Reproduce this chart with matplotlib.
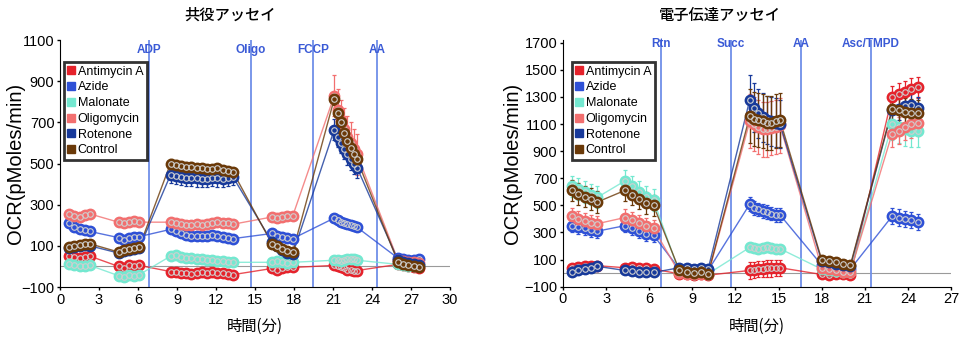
import matplotlib
matplotlib.use('Agg')
import matplotlib.pyplot as plt
import numpy as np

plt.rcParams['font.family'] = ['Liberation Sans', 'DejaVu Sans']
JP = ['Noto Sans CJK JP', 'DejaVu Sans']

names = ['Antimycin A', 'Azide', 'Malonate', 'Oligomycin', 'Rotenone', 'Control']
colors = ['#e5222b', '#2e50d6', '#74e8d0', '#f26f6f', '#17399a', '#6a3908']

# ---- 共役アッセイ (coupling assay) ----
coup_t = [0.7, 1.1, 1.5, 1.9, 2.3,
          4.5, 4.9, 5.3, 5.7, 6.1,
          8.5, 8.9, 9.3, 9.7, 10.1, 10.5, 10.9, 11.3, 11.7, 12.1, 12.5, 12.9, 13.3,
          16.3, 16.7, 17.1, 17.5, 17.9,
          21.1, 21.35, 21.6, 21.85, 22.1, 22.35, 22.6, 22.85,
          26.0, 26.4, 26.8, 27.2, 27.6]
coup_sizes = [5, 5, 13, 5, 8, 5]
coup_antimycin = [50, 45, 40, 45, 50,
                  0, -10, 5, 0, 5,
                  -25, -25, -30, -30, -35, -30, -25, -30, -25, -30, -30, -35, -40,
                  -10, -15, -10, -5, -5,
                  5, 0, -5, -10, -15, -15, -20, -20,
                  10, 5, 0, -5, -10]
coup_azide = [210, 190, 180, 175, 170,
              140, 130, 140, 145, 145,
              180, 170, 160, 155, 150, 150, 150, 150, 155, 150, 145, 140, 135,
              160, 150, 145, 140, 135,
              235, 225, 215, 210, 205, 200, 195, 190,
              40, 35, 30, 30, 35]
coup_malonate = [10, 5, 0, 0, 5,
                 -45, -50, -40, -45, -40,
                 50, 55, 45, 40, 40, 35, 35, 30, 30, 25, 25, 20, 20,
                 20, 25, 20, 15, 20,
                 30, 30, 25, 30, 35, 35, 35, 30,
                 10, 5, 0, 0, 5]
coup_oligomycin = [255, 245, 240, 250, 255,
                   215, 210, 215, 220, 215,
                   215, 210, 205, 200, 200, 205, 200, 205, 210, 215, 210, 210, 205,
                   240, 235, 240, 245, 245,
                   830, 760, 710, 670, 630, 600, 570, 545,
                   30, 25, 20, 20, 15]
coup_rotenone = [90, 95, 100, 105, 100,
                 65, 75, 80, 85, 90,
                 445, 440, 435, 430, 430, 428, 425, 425, 430, 428, 425, 430, 435,
                 120, 100, 80, 65, 60,
                 665, 630, 600, 570, 545, 520, 500, 480,
                 30, 20, 15, 10, 5]
coup_control = [95, 100, 105, 110, 110,
                70, 80, 85, 90, 95,
                500, 495, 490, 485, 485, 480, 478, 475, 475, 480, 470, 465, 460,
                110, 100, 85, 75, 70,
                815, 745, 700, 650, 610, 575, 545, 520,
                20, 10, 5, 0, -5]
coup_err = [[10, 10, 10, 10, 10, 10],
            [15, 15, 15, 15, 15, 10],
            [10, 10, 10, 10, 10, 10],
            [15, 15, 15, 15, 100, 10],
            [15, 15, 40, 20, 50, 10],
            [15, 15, 20, 20, 30, 10]]
coup_inj = [6.85, 14.7, 19.5, 24.4]
coup_inj_labels = ['ADP', 'Oligo', 'FCCP', 'AA']

# ---- 電子伝達アッセイ (electron flow assay) ----
flow_t = [0.6, 1.05, 1.5, 1.95, 2.4,
          4.3, 4.8, 5.3, 5.8, 6.3,
          8.1, 8.6, 9.1, 9.6, 10.1,
          13.0, 13.3, 13.6, 13.9, 14.2, 14.5, 14.8, 15.1,
          18.0, 18.5, 19.0, 19.5, 20.0,
          22.9, 23.35, 23.8, 24.25, 24.7]
flow_sizes = [5, 5, 5, 8, 5, 5]
flow_antimycin = [40, 45, 50, 55, 55,
                  40, 45, 40, 35, 30,
                  -5, -10, -15, -10, -15,
                  20, 25, 30, 30, 35, 35, 40, 40,
                  -10, -15, -10, -10, -15,
                  1300, 1320, 1340, 1360, 1370]
flow_azide = [350, 340, 330, 320, 310,
              350, 330, 310, 290, 280,
              30, 25, 20, 25, 20,
              510, 480, 470, 460, 450, 440, 430, 430,
              60, 50, 40, 30, 30,
              420, 410, 400, 390, 380]
flow_malonate = [640, 620, 600, 580, 560,
                 680, 640, 600, 560, 540,
                 5, 0, -5, 0, -5,
                 190, 185, 180, 185, 190, 185, 180, 180,
                 30, 20, 15, 10, 10,
                 1100, 1080, 1060, 1050, 1050]
flow_oligomycin = [420, 400, 385, 370, 365,
                   410, 390, 370, 350, 330,
                   0, -5, -10, -5, -10,
                   1120, 1100, 1080, 1060, 1060, 1070, 1080, 1090,
                   40, 30, 20, 10, 10,
                   1030, 1050, 1080, 1100, 1110]
flow_rotenone = [10, 20, 30, 40, 50,
                 20, 15, 10, 5, 5,
                 40, 35, 30, 35, 30,
                 1280, 1220, 1180, 1150, 1130, 1120, 1110, 1100,
                 90, 80, 70, 60, 50,
                 1200, 1210, 1230, 1240, 1220]
flow_control = [610, 585, 565, 545, 525,
                610, 580, 550, 520, 500,
                20, 10, 0, 5, -5,
                1160, 1140, 1130, 1120, 1110, 1110, 1120, 1130,
                100, 90, 80, 70, 60,
                1210, 1200, 1190, 1185, 1180]
flow_err = [[15, 15, 10, 60, 10, 80],
            [50, 50, 10, 50, 10, 60],
            [80, 80, 10, 30, 10, 120],
            [60, 60, 10, 200, 10, 100],
            [20, 20, 15, 180, 15, 80],
            [80, 80, 15, 200, 15, 100]]
flow_inj = [6.82, 11.69, 16.56, 21.43]
flow_inj_labels = ['Rtn', 'Succ', 'AA', 'Asc/TMPD']


def draw_panel(ax, t, series, err, sizes, inj, inj_labels, xmax, ylim, yticks, label_y, leg_xy, ylab_x):
    ax.axhline(0, color='#9a9a9a', lw=0.8, zorder=1)
    for xi, lab in zip(inj, inj_labels):
        ax.axvline(xi, color='#6f8fe8', lw=1.3, zorder=1)
        ax.text(xi, label_y, lab, transform=ax.get_xaxis_transform(), ha='center', va='center',
                color='#3a5ad6', fontsize=8.5, fontweight='bold')
    for y, c in zip(series, colors):
        ax.plot(t, y, '-', color=c, lw=1.0, alpha=0.8, zorder=2)
    for i, (y, e, c) in enumerate(zip(series, err, colors)):
        ax.errorbar(t, y, yerr=np.repeat(e, sizes), fmt='none', ecolor=c, elinewidth=0.9,
                    capsize=1.5, capthick=0.9, zorder=3 + i)
    for i, (y, c, n) in enumerate(zip(series, colors, names)):
        ax.plot(t, y, 'o', ms=7.5, mfc=c, mec=c, zorder=10 + i)
        ax.plot(t, y, 'o', ms=4, mfc='none', mec='#cfcfcf', mew=0.8, zorder=10 + i)
    ax.set_xlim(0, xmax)
    ax.set_ylim(*ylim)
    ax.set_xticks(np.arange(0, xmax + 1, 3))
    ax.set_yticks(yticks)
    for s in ['top', 'right']:
        ax.spines[s].set_visible(False)
    ax.tick_params(labelsize=10.5, length=2, width=1, pad=2)
    ax.set_ylabel('OCR(pMoles/min)', fontsize=14.5)
    ax.yaxis.set_label_coords(ylab_x, 0.5)
    ax.set_xlabel('時間(分)', fontsize=11, family=JP, labelpad=8)
    handles = [plt.Line2D([], [], ls='none', marker='s', ms=6, mfc=c, mec=c) for c in colors]
    leg = ax.legend(handles, names, loc='upper left', bbox_to_anchor=leg_xy, fontsize=9,
                    frameon=True, fancybox=False, edgecolor='black', handlelength=0.6,
                    handletextpad=0.2, borderpad=0.3, labelspacing=0.3, borderaxespad=0)
    leg.get_frame().set_linewidth(2)
    leg.set_zorder(30)


fig = plt.figure(figsize=(9.65, 3.42), dpi=100)
ax1 = fig.add_axes([0.0622, 0.1608, 0.4041, 0.7222])
ax2 = fig.add_axes([0.5834, 0.1617, 0.4021, 0.7213])

draw_panel(ax1, coup_t,
           [coup_antimycin, coup_azide, coup_malonate, coup_oligomycin, coup_rotenone, coup_control],
           coup_err, coup_sizes, coup_inj, coup_inj_labels, 30, (-100, 1100),
           np.arange(-100, 1101, 200), 0.96, (0.01, 0.911), -0.09)
draw_panel(ax2, flow_t,
           [flow_antimycin, flow_azide, flow_malonate, flow_oligomycin, flow_rotenone, flow_control],
           flow_err, flow_sizes, flow_inj, flow_inj_labels, 27, (-100, 1720),
           np.arange(-100, 1701, 200), 0.985, (0.023, 0.911), -0.105)

fig.text(0.238, 0.955, '共役アッセイ', ha='center', va='center', fontsize=11, family=JP, fontweight='medium')
fig.text(0.746, 0.955, '電子伝達アッセイ', ha='center', va='center', fontsize=11, family=JP, fontweight='medium')

fig.savefig('out.png', dpi=100)
